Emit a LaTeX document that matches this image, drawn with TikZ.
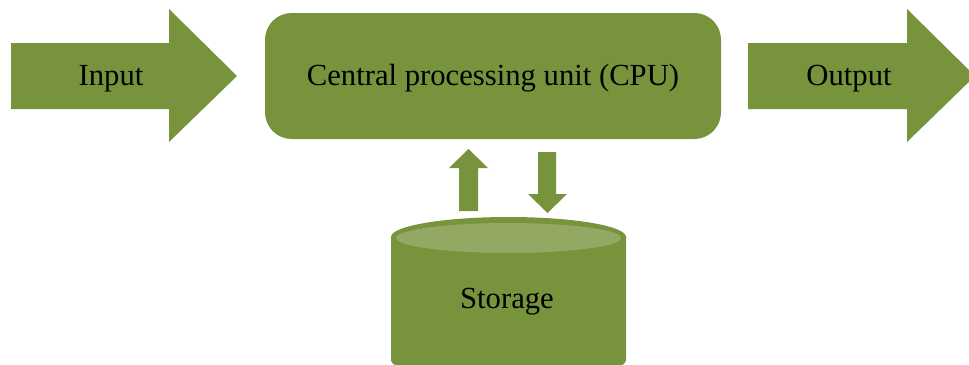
\documentclass[tikz,border=0pt]{standalone}
\usepackage{fontspec}
\setmainfont{Liberation Serif}
\definecolor{blkgreen}{HTML}{77933C}
\definecolor{blklight}{HTML}{93A963}
\tikzset{
  blk/.style={fill=blkgreen, draw=none},
  lbl/.style={font=\fontsize{23}{27}\selectfont, text=black, inner sep=0pt, anchor=base}
}
\begin{document}
\begin{tikzpicture}[x=0.75pt, y=-0.75pt]
\useasboundingbox (0,0) rectangle (969,364);
\clip (0,0) rectangle (969,364);
% input arrow
\fill[blk] (11,43) -- (169,43) -- (169,9) -- (237,76) -- (169,142) -- (169,109) -- (11,109) -- cycle;
\node[lbl] (in) at (111,85) {Input};
% CPU
\fill[blk, rounded corners=20] (265,13) rectangle (721,139);
\node[lbl] (cpu) at (493,85) {Central processing unit (CPU)};
% output arrow
\fill[blk] (748,43) -- (907,43) -- (907,9) -- (975,76) -- (907,142) -- (907,109) -- (748,109) -- cycle;
\node[lbl] (out) at (849,85) {Output};
% up arrow
\fill[blk] (459,211) -- (459,168) -- (449,168) -- (468.5,149) -- (488,168) -- (478,168) -- (478,211) -- cycle;
% down arrow
\fill[blk] (538,152) -- (556,152) -- (556,194) -- (567,194) -- (547.5,213) -- (528,194) -- (538,194) -- cycle;
% storage cylinder
\fill[blk] (391,237) -- (391,360) arc[start angle=180, end angle=0, x radius=117.5, y radius=20] -- (626,237) arc[start angle=0, end angle=-180, x radius=117.5, y radius=20] -- cycle;
\fill[blklight] (508.5,238) ellipse[x radius=112.5, y radius=15];
\node[lbl] (sto) at (507,308) {Storage};
\end{tikzpicture}
\end{document}
